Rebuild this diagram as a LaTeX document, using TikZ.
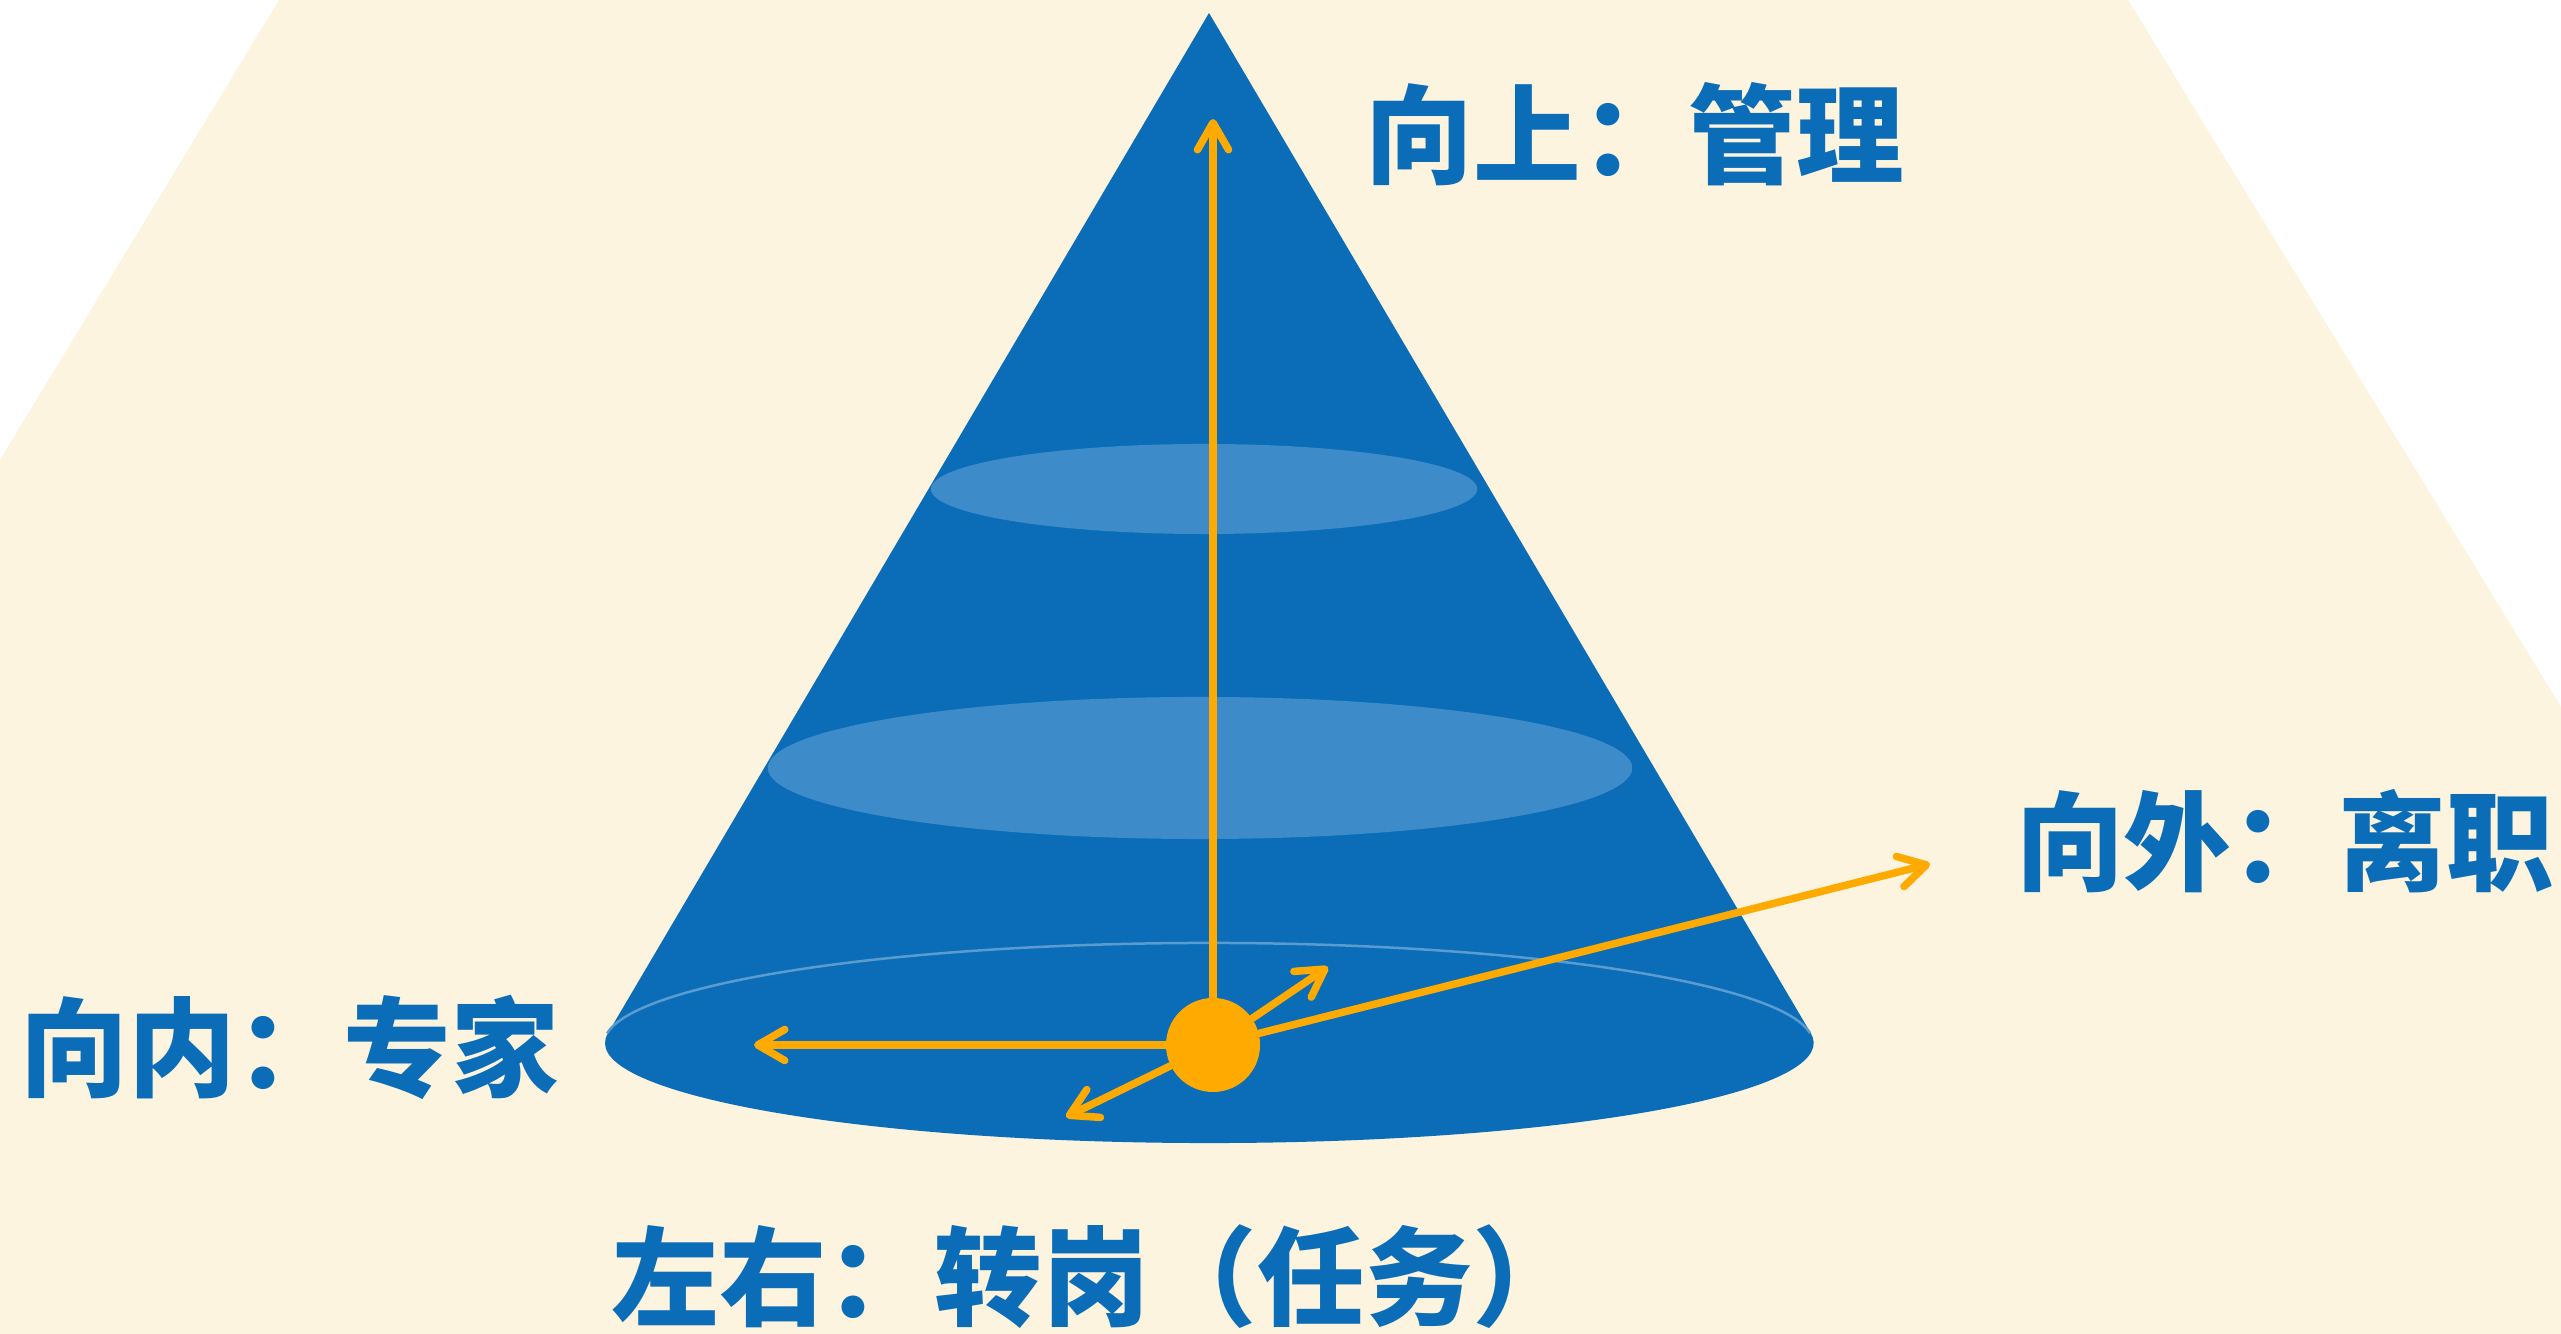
\documentclass[tikz,border=0pt]{standalone}
\usepackage{fontspec}
\newfontfamily\cjk{Noto Sans CJK SC}
\usetikzlibrary{arrows.meta,calc}
\definecolor{cream}{HTML}{FCF4DE}
\definecolor{coneblue}{HTML}{0B6DB8}
\definecolor{lightring}{HTML}{3D8BC8}
\definecolor{rimline}{HTML}{5A9BD0}
\definecolor{orangeA}{HTML}{FFAA00}
\tikzset{
  arr/.style={draw=orangeA, line width=0.075cm, line cap=round,
    -{Straight Barb[length=0.27cm, width=0.31cm, round]}},
  lbl/.style={text=coneblue, inner sep=0pt, font=\cjk\bfseries\fontsize{30.6pt}{36pt}\selectfont},
  ballstyle/.style={circle, fill=orangeA, minimum size=0.94cm, inner sep=0pt}
}
\begin{document}
\begin{tikzpicture}[x=0.01cm,y=0.01cm]
\useasboundingbox (0,0) rectangle (2561,1334);
\fill[white] (0,0) rectangle (2561,1334);
% background shape
\fill[cream] (279,1334) -- (2128,1334) -- (2561,627) -- (2561,0) -- (0,0) -- (0,874) -- cycle;
% cone
\coordinate (apex) at (1209,1321);
\coordinate (base) at (1209,291);
\fill[coneblue] (apex) -- (607.9,300.7) arc[start angle=174.43, end angle=365.57, x radius=6.04cm, y radius=1cm] -- cycle;
\draw[rimline, line width=0.025cm] (1810.1,300.7) arc[start angle=5.57, end angle=174.43, x radius=6.04cm, y radius=1cm];
% inner rings
\fill[lightring] (1204,845) ellipse [x radius=2.73cm, y radius=0.45cm];
\fill[lightring] (1200,566) ellipse [x radius=4.32cm, y radius=0.71cm];
% ball and arrows
\node[ballstyle] (ball) at (1213,289) {};
\coordinate (tipup) at (1213,1215);
\coordinate (tipleft) at (754,289);
\coordinate (tipdl) at (1066,217);
\coordinate (tipur) at (1328,367);
\coordinate (tipright) at (1930,470);
\draw[arr] (ball) -- (tipup);
\draw[arr] (ball) -- (tipleft);
\draw[arr] (ball) -- (tipdl);
\draw[arr] (ball) -- (tipur);
\draw[arr] (ball) -- (tipright);
% labels
\node[lbl] (up) at (1635,1200) {向上：管理};
\node[lbl] (out) at (2285,493) {向外：离职};
\node[lbl] (in) at (290,287) {向内：专家};
\node[lbl] (lr) at (1096,57) {左右：转岗（任务）};
\end{tikzpicture}
\end{document}
